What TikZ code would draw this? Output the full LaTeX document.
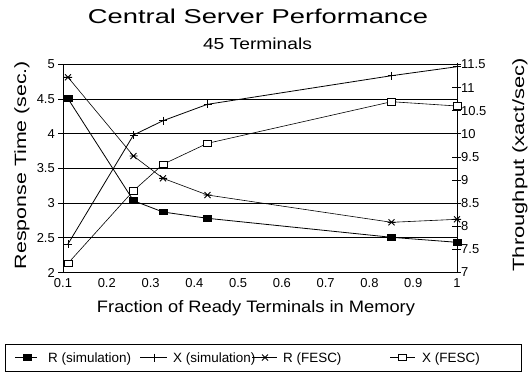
\documentclass[tikz,border=0pt]{standalone}
\usepackage{fontspec}
\setmainfont{Liberation Sans}
\usepackage{graphicx}
\begin{document}
\begin{tikzpicture}[x=1bp,y=-1bp,
  gridline/.style={line width=0.9bp},
  axisline/.style={line width=1bp},
  simline/.style={line width=0.8bp},
  fescline/.style={line width=0.6bp},
  ticklab/.style={font=\fontsize{13}{15}\selectfont, inner sep=0pt},
  legtext/.style={font=\fontsize{13.5}{16}\selectfont, inner sep=0pt, anchor=base west},
  rsim/.pic={\fill (-4.5,-3.3) rectangle (4.5,3.3);},
  xsim/.pic={\draw[line width=0.9bp] (-4,0)--(4,0) (0,-4)--(0,4);},
  rfesc/.pic={\draw[line width=0.9bp] (-3,-3)--(3,3) (-3,3)--(3,-3) (-4,0)--(4,0);},
  xfesc/.pic={\draw[line width=0.8bp, fill=white] (-4,-3.2) rectangle (4,3.2);}
]
\useasboundingbox (0,0) rectangle (530,379);

% axes corners
\coordinate (bl) at (63,272.5);
\coordinate (br) at (457,272.5);
\coordinate (tl) at (63,64.5);
\coordinate (tr) at (457,64.5);

% horizontal grid lines (left axis values)
\foreach \v in {2,2.5,...,5.01}{
  \pgfmathsetmacro{\yy}{272.5-(\v-2)*69.333}
  \coordinate (ga) at (63,\yy);
  \coordinate (gb) at (457,\yy);
  \draw[gridline] (ga) -- (gb);
  \coordinate (ta) at (58,\yy);
  \coordinate (tb) at (68,\yy);
  \draw[gridline] (ta) -- (tb);
}
\draw[axisline] (bl) -- (tl);
\draw[axisline] (br) -- (tr);

% right ticks
\foreach \v in {7,7.5,...,11.51}{
  \pgfmathsetmacro{\yy}{272.5-(\v-7)*46.222}
  \coordinate (ra) at (452,\yy);
  \coordinate (rb) at (461,\yy);
  \draw[gridline] (ra) -- (rb);
}

% left tick labels
\node[ticklab, anchor=east] (l20) at (55,272.5) {2};
\node[ticklab, anchor=east] (l25) at (55,237.8) {2.5};
\node[ticklab, anchor=east] (l30) at (55,203.2) {3};
\node[ticklab, anchor=east] (l35) at (55,168.5) {3.5};
\node[ticklab, anchor=east] (l40) at (55,133.8) {4};
\node[ticklab, anchor=east] (l45) at (55,99.2) {4.5};
\node[ticklab, anchor=east] (l50) at (55,64.5) {5};

% right tick labels
\node[ticklab, anchor=west] (r70) at (461,272.5) {7};
\node[ticklab, anchor=west] (r75) at (461,249.4) {7.5};
\node[ticklab, anchor=west] (r80) at (461,226.3) {8};
\node[ticklab, anchor=west] (r85) at (461,203.2) {8.5};
\node[ticklab, anchor=west] (r90) at (461,180.1) {9};
\node[ticklab, anchor=west] (r95) at (461,157.0) {9.5};
\node[ticklab, anchor=west] (r100) at (461,133.8) {10};
\node[ticklab, anchor=west] (r105) at (461,110.7) {10.5};
\node[ticklab, anchor=west] (r110) at (461,87.6) {11};
\node[ticklab, anchor=west] (r115) at (461,64.5) {11.5};

% bottom tick labels
\foreach \v/\n in {0.1/b1,0.2/b2,0.3/b3,0.4/b4,0.5/b5,0.6/b6,0.7/b7,0.8/b8,0.9/b9}{
  \pgfmathsetmacro{\xx}{63+(\v-0.1)*437.78}
  \node[ticklab, anchor=base] (\n) at (\xx,287.5) {\v};
}
\node[ticklab, anchor=base] (b10) at (457,287.5) {1};

% titles and axis labels
\node[anchor=base, inner sep=0pt] (title) at (258,23.3)
  {\resizebox{340bp}{14.5bp}{Central Server Performance}};
\node[anchor=base, inner sep=0pt] (subtitle) at (257.5,49.3)
  {\resizebox{109bp}{11.6bp}{45 Terminals}};
\node[anchor=base, inner sep=0pt] (xlabel) at (256,312)
  {\resizebox{318bp}{12bp}{Fraction of Ready Terminals in Memory}};
\node[anchor=base, inner sep=0pt, rotate=90] (ylabel) at (26,165)
  {\resizebox{208bp}{11.8bp}{Response Time (sec.)}};
\node[anchor=base, inner sep=0pt, rotate=90] (y2label) at (524,165)
  {\resizebox{213bp}{11.8bp}{Throughput (xact/sec)}};

% data points
\coordinate (rs1) at (68,98.7);
\coordinate (rs2) at (133.5,200.7);
\coordinate (rs3) at (163,212);
\coordinate (rs4) at (207.5,218.3);
\coordinate (rs5) at (391.5,237.3);
\coordinate (rs6) at (457,242.3);

\coordinate (xs1) at (68,244);
\coordinate (xs2) at (133.5,135);
\coordinate (xs3) at (163,120.7);
\coordinate (xs4) at (207.5,104.3);
\coordinate (xs5) at (391.5,75.7);
\coordinate (xs6) at (457,66.7);

\coordinate (rf1) at (68,77.3);
\coordinate (rf2) at (133.5,156);
\coordinate (rf3) at (163,178.3);
\coordinate (rf4) at (207.5,195);
\coordinate (rf5) at (391.5,222.3);
\coordinate (rf6) at (457,219.3);

\coordinate (xf1) at (68,263.3);
\coordinate (xf2) at (133.5,190.7);
\coordinate (xf3) at (163,164.3);
\coordinate (xf4) at (207.5,143.3);
\coordinate (xf5) at (391.5,101.7);
\coordinate (xf6) at (457,106);

\draw[simline] (rs1)--(rs2)--(rs3)--(rs4)--(rs5)--(rs6);
\draw[simline] (xs1)--(xs2)--(xs3)--(xs4)--(xs5)--(xs6);
\draw[fescline] (rf1)--(rf2)--(rf3)--(rf4)--(rf5)--(rf6);
\draw[fescline] (xf1)--(xf2)--(xf3)--(xf4)--(xf5)--(xf6);

\foreach \i in {1,...,6}{
  \pic at (rs\i) {rsim};
  \pic at (xs\i) {xsim};
  \pic at (rf\i) {rfesc};
  \pic at (xf\i) {xfesc};
}

% legend
\node[draw, line width=0.9bp, minimum width=516bp, minimum height=27bp,
      anchor=north west, inner sep=0pt] (legbox) at (5,344) {};
\coordinate (la1) at (15,357.5); \coordinate (lb1) at (37,357.5);
\coordinate (la2) at (140,357.5); \coordinate (lb2) at (167,357.5);
\coordinate (la3) at (252,357.5); \coordinate (lb3) at (277,357.5);
\coordinate (la4) at (390,357.5); \coordinate (lb4) at (415,357.5);
\draw[simline] (la1)--(lb1);
\draw[simline] (la2)--(lb2);
\draw[simline] (la3)--(lb3);
\draw[simline] (la4)--(lb4);
\pic at (27,357.5) {rsim};
\pic at (154,357.5) {xsim};
\pic at (265,357.5) {rfesc};
\pic at (402.5,357.5) {xfesc};
\node[legtext] (lt1) at (48,362.3) {R (simulation)};
\node[legtext] (lt2) at (173,362.3) {X (simulation)};
\node[legtext] (lt3) at (283,362.3) {R (FESC)};
\node[legtext] (lt4) at (422,362.3) {X (FESC)};
\end{tikzpicture}
\end{document}
